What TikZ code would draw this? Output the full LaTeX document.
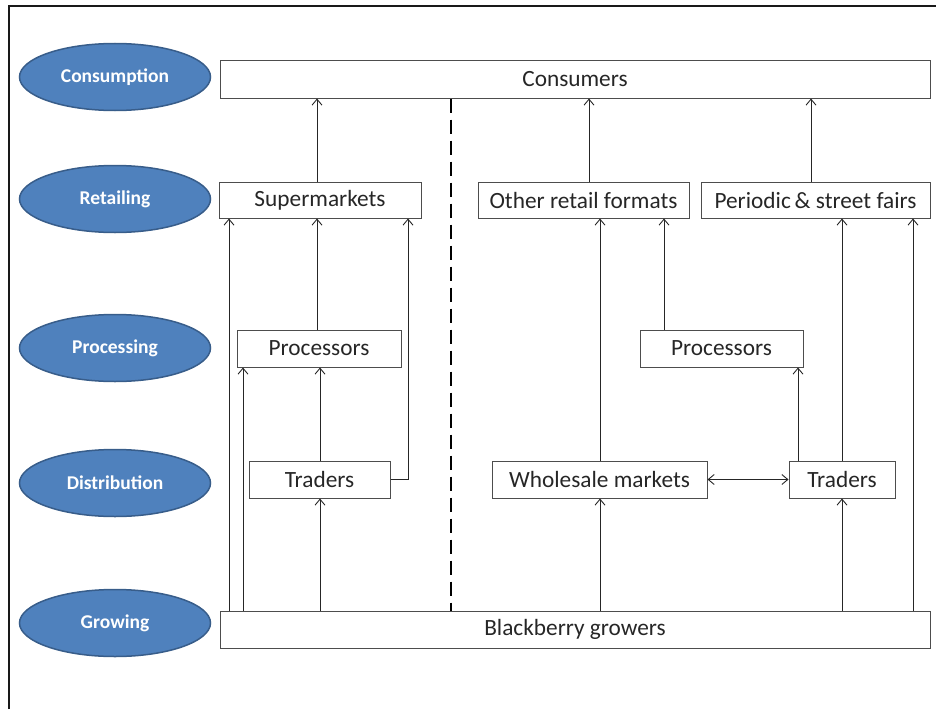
\documentclass[tikz,border=0pt]{standalone}
\usepackage{fontspec}
\setmainfont{Carlito}
\usetikzlibrary{arrows.meta,shapes.geometric}
\definecolor{stageblue}{HTML}{4F81BD}
\definecolor{stageedge}{HTML}{385D8A}
\definecolor{boxedge}{HTML}{4D4D4D}
\definecolor{txt}{HTML}{262626}
\begin{document}
\begin{tikzpicture}[x=1pt,y=-1pt,
  stage/.style={ellipse,fill=stageblue,draw=stageedge,line width=1.5pt,
    minimum width=191pt,minimum height=67pt,inner sep=0pt,
    text=white,font=\fontsize{19.5}{21}\selectfont\bfseries},
  box/.style={draw=boxedge,line width=1pt,minimum height=37pt,inner sep=0pt,
    text=txt,font=\fontsize{23.3}{25}\selectfont},
  arr/.style={draw=black!85,line width=0.9pt,-{Straight Barb[length=6pt,width=10pt]}},
  arrtwo/.style={draw=black!85,line width=0.9pt,{Straight Barb[length=6pt,width=10pt]}-{Straight Barb[length=6pt,width=10pt]}}]
\useasboundingbox (0,0) rectangle (936,709);
% frame
\draw[line width=2pt,black!90] (8.5,709) -- (8.5,6) -- (936,6);
% stage ellipses
\node[stage] (sCons) at (115,77) {Consumption};
\node[stage] (sRet) at (115,199) {Retailing};
\node[stage] (sProc) at (115,348) {Processing};
\node[stage] (sDist) at (115,483) {Distribution};
\node[stage] (sGrow) at (115,623) {Growing};
% boxes
\node[box,minimum width=710pt] (cons) at (575,79.5) {Consumers};
\node[box,minimum width=202pt,minimum height=36pt] (super) at (320,200) {Supermarkets};
\node[box,minimum width=211pt,minimum height=36pt] (other) at (583.5,200) {Other retail formats};
\node[box,minimum width=229pt,minimum height=36pt] (period) at (815.5,200) {Periodic\,\& street fairs};
\node[box,minimum width=164pt] (procL) at (319,348.5) {Processors};
\node[box,minimum width=163pt] (procR) at (721.5,348.5) {Processors};
\node[box,minimum width=141pt] (tradL) at (319.5,479.5) {Traders};
\node[box,minimum width=215pt] (whole) at (599.5,479.5) {Wholesale markets};
\node[box,minimum width=106pt] (tradR) at (842,479.5) {Traders};
\node[box,minimum width=710pt] (grow) at (575,629.5) {Blackberry growers};
% column coordinates
\coordinate (c229) at (229,0);
\coordinate (c243) at (243,0);
\coordinate (c317) at (317,0);
\coordinate (c320) at (320,0);
\coordinate (c408) at (408,0);
\coordinate (c451) at (451,0);
\coordinate (c589) at (589,0);
\coordinate (c600) at (600,0);
\coordinate (c664) at (664,0);
\coordinate (c798) at (798,0);
\coordinate (c811) at (811,0);
\coordinate (c842) at (842,0);
\coordinate (c913) at (913,0);
% to consumers
\draw[arr] (super.north -| c317) -- (cons.south -| c317);
\draw[arr] (other.north -| c589) -- (cons.south -| c589);
\draw[arr] (period.north -| c811) -- (cons.south -| c811);
% left side
\draw[arr] (grow.north -| c229) -- (super.south -| c229);
\draw[arr] (grow.north -| c243) -- (procL.south -| c243);
\draw[arr] (procL.north -| c317) -- (super.south -| c317);
\draw[arr] (tradL.north -| c320) -- (procL.south -| c320);
\draw[arr] (grow.north -| c320) -- (tradL.south -| c320);
\draw[arr] (tradL.east) -| (super.south -| c408);
% divider
\draw[line width=2pt,black,dash pattern=on 14pt off 7pt] (cons.south -| c451) -- (grow.north -| c451);
% right side
\draw[arr] (whole.north -| c600) -- (other.south -| c600);
\draw[arr] (procR.north -| c664) -- (other.south -| c664);
\draw[arr] (tradR.north -| c798) -- (procR.south -| c798);
\draw[arr] (tradR.north -| c842) -- (period.south -| c842);
\draw[arr] (grow.north -| c913) -- (period.south -| c913);
\draw[arrtwo] (whole.east) -- (tradR.west);
\draw[arr] (grow.north -| c600) -- (whole.south -| c600);
\draw[arr] (grow.north -| c842) -- (tradR.south -| c842);
\end{tikzpicture}
\end{document}
